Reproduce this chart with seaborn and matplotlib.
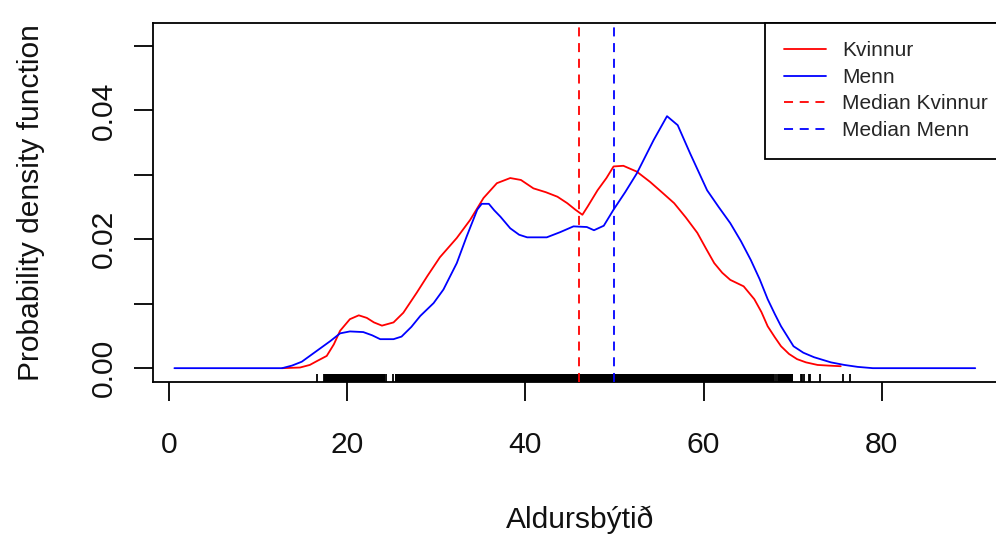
import matplotlib
matplotlib.use("Agg")
import matplotlib.pyplot as plt
import seaborn as sns

# density curves (age, density)
kvinnur_age = [12.7, 14.7, 15.8, 16.6, 17.7, 18.5, 19.2, 20.3, 21.3, 22.2,
               23.0, 23.9, 25.2, 26.3, 27.8, 29.0, 30.4, 32.3, 33.8, 35.3,
               36.8, 38.3, 39.5, 40.9, 42.3, 43.6, 44.7, 45.6, 46.4, 47.0,
               48.1, 49.1, 49.9, 51.0, 52.5, 54.0, 55.4, 56.7, 58.0, 59.3,
               60.3, 61.2, 62.1, 63.0, 64.5, 65.7, 66.5, 67.2, 68.0, 68.7,
               69.6, 70.5, 71.5, 72.8, 74.0, 75.4]
kvinnur_dens = [0.0000, 0.0001, 0.0005, 0.0011, 0.0019, 0.0037, 0.0058, 0.0076, 0.0082, 0.0078,
                0.0071, 0.0066, 0.0071, 0.0086, 0.0117, 0.0143, 0.0172, 0.0202, 0.0230, 0.0264,
                0.0287, 0.0295, 0.0292, 0.0279, 0.0273, 0.0266, 0.0256, 0.0246, 0.0238, 0.0251,
                0.0276, 0.0295, 0.0313, 0.0314, 0.0305, 0.0289, 0.0272, 0.0256, 0.0234, 0.0210,
                0.0185, 0.0163, 0.0148, 0.0137, 0.0127, 0.0107, 0.0087, 0.0065, 0.0048, 0.0034,
                0.0022, 0.0014, 0.0009, 0.0005, 0.0004, 0.0003]

menn_age = [0.6, 12.7, 13.8, 14.9, 16.6, 18.1, 19.2, 20.3, 21.8, 22.8,
            23.7, 25.2, 26.1, 27.2, 28.2, 29.7, 30.8, 32.3, 33.4, 34.6,
            35.1, 35.9, 36.5, 37.2, 38.3, 39.3, 40.2, 42.4, 43.9, 45.4,
            46.9, 47.7, 48.8, 49.9, 51.2, 52.5, 54.4, 55.9, 57.1, 58.5,
            60.4, 61.7, 63.0, 64.2, 65.3, 66.3, 67.2, 68.0, 68.7, 70.1,
            71.2, 72.4, 74.3, 75.8, 77.3, 79.0, 90.5]
menn_dens = [0.0000, 0.0000, 0.0004, 0.0010, 0.0027, 0.0042, 0.0054, 0.0057, 0.0056, 0.0051,
             0.0045, 0.0045, 0.0049, 0.0064, 0.0081, 0.0101, 0.0122, 0.0163, 0.0204, 0.0246,
             0.0255, 0.0255, 0.0245, 0.0235, 0.0217, 0.0207, 0.0203, 0.0203, 0.0211, 0.0220,
             0.0219, 0.0214, 0.0221, 0.0246, 0.0273, 0.0302, 0.0354, 0.0391, 0.0377, 0.0333,
             0.0276, 0.0250, 0.0225, 0.0197, 0.0168, 0.0138, 0.0107, 0.0084, 0.0065, 0.0034,
             0.0024, 0.0017, 0.0009, 0.0005, 0.0002, 0.0000, 0.0000]

median_kvinnur = 46.0
median_menn = 49.9

# rug: the packed middle of the sample (one wide tick per year) and the sparse tails
rug_dense = [18, 19, 20, 21, 22, 23, 23.7, 25.9,
             26, 27, 28, 29, 30, 31, 32, 33, 34, 35, 36, 37, 38, 39, 40, 41, 42, 43, 44, 45,
             46, 47, 48, 49, 50, 51, 52, 53, 54, 55, 56, 57, 58, 59, 60, 61, 62, 63, 64, 65,
             66, 67, 67.3, 68.9, 69.5]
rug_sparse = [16.6, 17.4, 17.6, 24.4, 25.1, 68.0, 68.3, 70.9, 71.1, 71.3, 71.8, 71.9,
              73.1, 75.7, 76.4]

labels = ["Kvinnur", "Menn", "Median Kvinnur", "Median Menn"]

sns.set_style("ticks")
plt.rcParams['font.family'] = ['Liberation Sans', 'DejaVu Sans']

fig = plt.figure(figsize=(9.96, 5.37), dpi=100)
ax = fig.add_axes([0.1539, 0.2892, 0.8571, 0.6685])

lw = 1.3
dash = (0, (5, 3.7))

sns.rugplot(x=rug_dense, height=0.021, color="black", linewidth=7.2,
            expand_margins=False, ax=ax)
sns.rugplot(x=rug_sparse, height=0.021, color="black", linewidth=1.3,
            expand_margins=False, ax=ax)

sns.lineplot(x=kvinnur_age, y=kvinnur_dens, color="red", lw=lw, ax=ax)
h1 = ax.lines[-1]
sns.lineplot(x=menn_age, y=menn_dens, color="blue", lw=lw, ax=ax)
h2 = ax.lines[-1]
h3 = ax.axvline(median_kvinnur, color="red", lw=lw, ls=dash, zorder=5)
h4 = ax.axvline(median_menn, color="blue", lw=lw, ls=dash, zorder=5)

ax.set_xlim(-1.77, 94.06)
ax.set_ylim(-0.0021, 0.0536)
ax.set_xticks([0, 20, 40, 60, 80])
ax.set_yticks([0, 0.01, 0.02, 0.03, 0.04, 0.05])
ax.set_yticklabels(["0.00", "", "0.02", "", "0.04", ""])

ax.tick_params(axis="both", length=13.7, width=lw, color="black", labelsize=21.6,
               labelcolor="#111111")
ax.tick_params(axis="x", pad=22)
ax.tick_params(axis="y", pad=12, labelrotation=90)
plt.setp(ax.get_yticklabels(), va="center")

for s in ax.spines.values():
    s.set_linewidth(lw)
    s.set_color("black")

ax.set_xlabel("Aldursbýtið", fontsize=21.6, labelpad=33, color="#111111")
ax.set_ylabel("Probability density function", fontsize=21.6, labelpad=32, color="#111111")

leg = ax.legend([h1, h2, h3, h4], labels, loc="upper right", bbox_to_anchor=(1, 1),
                borderaxespad=0, fontsize=15, frameon=True, fancybox=False,
                edgecolor="black", framealpha=1, borderpad=0.9, labelspacing=0.36,
                handlelength=2, handletextpad=0.8)
leg.get_frame().set_linewidth(lw)

fig.savefig("out.png", dpi=100)
